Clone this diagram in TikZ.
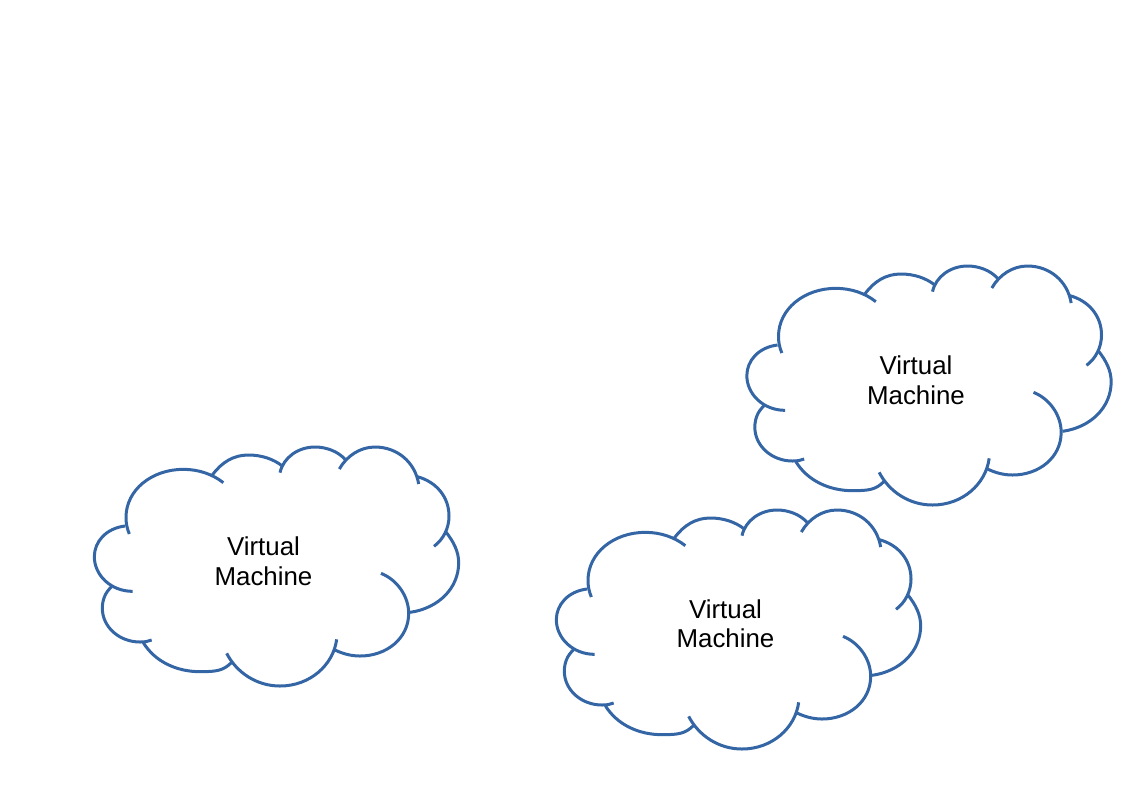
\documentclass[tikz,border=0pt]{standalone}
\usepackage{fontspec}
\setmainfont{Liberation Sans}
\definecolor{cloudblue}{HTML}{3465A4}
\tikzset{
  lobe/.style={draw=cloudblue,line width=2.25pt,line cap=butt},
  vmlabel/.style={align=center,font=\fontsize{19.4pt}{22.3pt}\selectfont,text=black,inner sep=0pt},
  pics/vmcloud/.style={code={
    \begin{scope}[x=0.25pt,y=-0.25pt]
    \draw[lobe] (135,288) .. controls (78,295) and (43,335) .. (43,380) .. controls (43,435) and (92,484) .. (158,484);
    \draw[lobe] (148,312) .. controls (141,295) and (138,280) .. (138,262) .. controls (138,180) and (215,118) .. (310,118) .. controls (355,118) and (397,132) .. (430,158);
    \draw[lobe] (397,135) .. controls (425,97) and (460,75) .. (505,75) .. controls (545,75) and (580,87) .. (607,108);
    \draw[lobe] (600,128) .. controls (610,82) and (655,51) .. (705,51) .. controls (740,51) and (775,65) .. (795,88);
    \draw[lobe] (778,117) .. controls (800,78) and (840,51) .. (885,51) .. controls (950,51) and (1005,95) .. (1016,162);
    \draw[lobe] (1012,140) .. controls (1068,155) and (1107,200) .. (1107,258) .. controls (1107,295) and (1090,328) .. (1062,349);
    \draw[lobe] (1097,305) .. controls (1121,335) and (1136,365) .. (1136,398) .. controls (1136,475) and (1075,535) .. (990,547);
    \draw[lobe] (903,430) .. controls (953,450) and (986,500) .. (986,550) .. controls (986,625) and (920,678) .. (840,678) .. controls (815,678) and (790,672) .. (765,660);
    \draw[lobe] (770,628) .. controls (760,705) and (690,768) .. (600,768) .. controls (530,768) and (470,728) .. (440,670);
    \draw[lobe] (190,638) .. controls (225,695) and (290,725) .. (360,725) .. controls (410,725) and (430,722) .. (455,697);
    \draw[lobe] (215,630) .. controls (205,634) and (195,636) .. (180,636) .. controls (117,636) and (67,590) .. (67,535) .. controls (67,510) and (75,488) .. (95,470);
    \end{scope}
  }}
}
\begin{document}
\begin{tikzpicture}[x=0.75pt,y=-0.75pt]
\useasboundingbox (0,0) rectangle (1123,794);
\pic at (80,430) {vmcloud};
\pic at (542,493) {vmcloud};
\pic at (732.5,249) {vmcloud};
\node[vmlabel] (vm1) at (263.5,561) {Virtual\\Machine};
\node[vmlabel] (vm2) at (725.5,623.7) {Virtual\\Machine};
\node[vmlabel] (vm3) at (916,380) {Virtual\\Machine};
\end{tikzpicture}
\end{document}
